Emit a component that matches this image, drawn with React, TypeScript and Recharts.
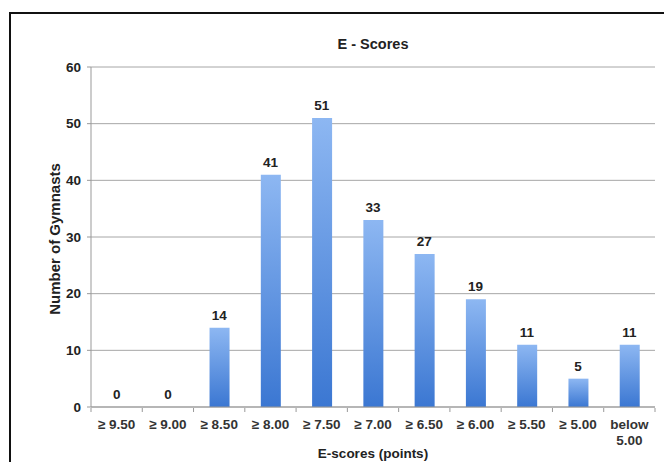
import React from "react";
import {
  ComposedChart,
  Bar,
  Line,
  XAxis,
  YAxis,
  CartesianGrid,
  LabelList,
  Label,
  Customized,
} from "recharts";

const categories = [
  "≥ 9.50",
  "≥ 9.00",
  "≥ 8.50",
  "≥ 8.00",
  "≥ 7.50",
  "≥ 7.00",
  "≥ 6.50",
  "≥ 6.00",
  "≥ 5.50",
  "≥ 5.00",
  "below\n5.00",
];
const gymnasts = [0, 0, 14, 41, 51, 33, 27, 19, 11, 5, 11];
const yTicks = [0, 10, 20, 30, 40, 50, 60];

const data = categories.map((c, i) => ({ category: c, count: gymnasts[i] }));

const W = 664;
const H = 462;
const MARGIN = { top: 67, right: 9, bottom: 0, left: 0 };
const Y_WIDTH = 91;
const X_HEIGHT = 55;
const FONT = "'Liberation Sans', Arial, sans-serif";
const INK = "#222";

const plotWidth = W - MARGIN.left - MARGIN.right - Y_WIDTH;
const step = plotWidth / categories.length;

const CategoryTick = (props: any) => {
  const { x, y, payload, index } = props;
  const lines = String(payload.value).split("\n");
  const left = x - step / 2;
  return (
    <g>
      <line x1={left} y1={y - 7} x2={left} y2={y - 3} stroke="#999" />
      {index === categories.length - 1 && (
        <line x1={x + step / 2} y1={y - 7} x2={x + step / 2} y2={y - 3} stroke="#999" />
      )}
      <text
        x={x}
        y={y + 14}
        textAnchor="middle"
        fontFamily={FONT}
        fontSize={13.5}
        fontWeight="bold"
        fill="#333"
      >
        {lines.map((l, i) => (
          <tspan key={i} x={x} dy={i === 0 ? 0 : 16}>
            {l}
          </tspan>
        ))}
      </text>
    </g>
  );
};

// Count labels sit above each column's top, including the empty columns
const ValueLabel = (props: any) => {
  const { x, y, value } = props;
  return (
    <text
      x={Number(x)}
      y={Number(y) - 8}
      textAnchor="middle"
      fontFamily={FONT}
      fontSize={13.5}
      fontWeight="bold"
      fill={INK}
    >
      {value}
    </text>
  );
};

const Title = (props: any) => {
  const off = props.offset || {};
  const cx = (off.left ?? 91) + (off.width ?? plotWidth) / 2;
  return (
    <text
      x={cx}
      y={49}
      textAnchor="middle"
      fontFamily={FONT}
      fontSize={14.5}
      fontWeight="bold"
      fill={INK}
    >
      E - Scores
    </text>
  );
};

export default function App() {
  return (
    <div
      style={{
        position: "fixed",
        left: 0,
        top: 0,
        width: W,
        height: H,
        overflow: "hidden",
        background: "#fff",
      }}
    >
      <div
        style={{
          position: "absolute",
          left: 9,
          top: 12,
          width: 720,
          height: 520,
          borderLeft: "2px solid #111",
          borderTop: "2px solid #111",
        }}
      />
      <div style={{ position: "absolute", left: 0, top: 0 }}>
        <ComposedChart width={W} height={H} data={data} margin={MARGIN} barCategoryGap={0}>
          <defs>
            <linearGradient id="barFill" x1="0" y1="0" x2="0" y2="1">
              <stop offset="0%" stopColor="#8db7f2" />
              <stop offset="100%" stopColor="#3b77d2" />
            </linearGradient>
          </defs>
          <CartesianGrid vertical={false} stroke="#a6a6a6" strokeWidth={1} />
          <XAxis
            dataKey="category"
            height={X_HEIGHT}
            axisLine={{ stroke: "#999" }}
            tickLine={false}
            interval={0}
            tick={<CategoryTick />}
          >
            <Label
              value="E-scores (points)"
              position="insideBottom"
              offset={0}
              dy={-4}
              style={{ fontFamily: FONT, fontSize: 13.5, fontWeight: "bold", fill: INK }}
            />
          </XAxis>
          <YAxis
            width={Y_WIDTH}
            domain={[0, 60]}
            ticks={yTicks}
            interval={0}
            axisLine={{ stroke: "#999" }}
            tickLine={{ stroke: "#999" }}
            tickSize={4}
            tickMargin={6}
            tick={{ fontFamily: FONT, fontSize: 13.5, fontWeight: "bold", fill: INK }}
          >
            <Label
              value="Number of Gymnasts"
              angle={-90}
              position="insideLeft"
              offset={0}
              dx={55}
              dy={2}
              style={{
                fontFamily: FONT,
                fontSize: 15,
                fontWeight: "bold",
                fill: INK,
                textAnchor: "middle",
              }}
            />
          </YAxis>
          <Bar dataKey="count" fill="url(#barFill)" barSize={20} isAnimationActive={false} />
          <Line
            dataKey="count"
            stroke="none"
            dot={false}
            activeDot={false}
            legendType="none"
            isAnimationActive={false}
          >
            <LabelList dataKey="count" content={<ValueLabel />} />
          </Line>
          <Customized component={Title} />
        </ComposedChart>
      </div>
    </div>
  );
}
